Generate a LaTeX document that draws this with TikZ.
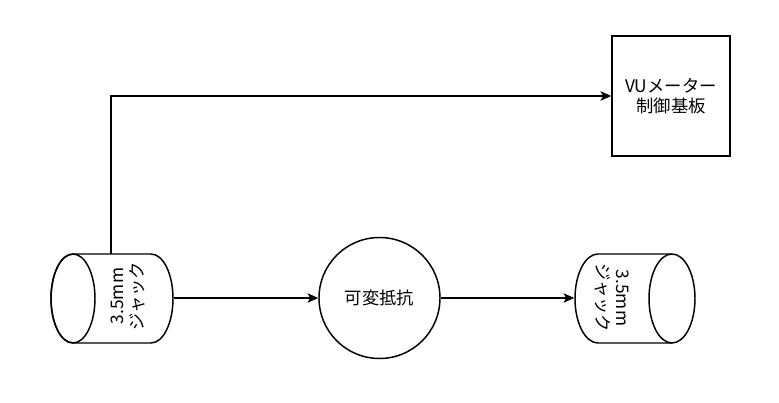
\documentclass[tikz,border=0pt]{standalone}
\usepackage{fontspec}
\setmainfont{Noto Sans CJK JP}
\usetikzlibrary{arrows.meta}
\begin{document}
\begin{tikzpicture}[x=0.75pt,y=-0.75pt,
  line width=1.1pt,
  lbl/.style={font=\fontsize{13pt}{15.5pt}\selectfont, align=center, inner sep=0pt},
  conn/.style={draw, line width=1.1pt, -{Stealth[length=8pt,width=7pt,inset=2pt]}},
  shp/.style={draw, line width=1.1pt, fill=white}]
\useasboundingbox (0,0) rectangle (779,403);
% left jack (cylinder, ellipse on left)
\draw[shp] (73,254) -- (151,254) arc[start angle=90,end angle=-90,x radius=16.5pt,y radius=33.375pt] -- (73,343) arc[start angle=270,end angle=90,x radius=16.5pt,y radius=33.375pt] -- cycle;
\draw (73,298.5) ellipse[x radius=16.5pt,y radius=33.375pt];
\node[inner sep=0, minimum width=91.5pt, minimum height=66.75pt] (jl) at (112,298.5) {};
\node[lbl, rotate=90] (jltxt) at (128,296) {3.5mm\\ジャック};
% right jack (ellipse on right)
\draw[shp] (672,254) -- (598,254) arc[start angle=90,end angle=270,x radius=17.25pt,y radius=33.375pt] -- (672,343);
\draw (672,298.5) ellipse[x radius=17.25pt,y radius=33.375pt];
\node[inner sep=0, minimum width=90pt, minimum height=66.75pt] (jr) at (635,298.5) {};
\node[lbl, rotate=-90] (jrtxt) at (612,298) {3.5mm\\ジャック};
% variable resistor
\node[draw, circle, minimum size=90.75pt, inner sep=0, lbl] (vr) at (379.5,298) {可変抵抗};
% VU meter board
\node[draw, rectangle, minimum width=88.5pt, minimum height=90pt, inner sep=0, lbl] (vu) at (671,96) {VUメーター\\制御基板};
% connectors
\coordinate (c1) at (111,96);
\draw[conn] (jl.east |- vr.west) -- (vr.west);
\draw[conn] (vr.east) -- (jr.west |- vr.east);
\draw[conn] (111,254) -- (c1) -- (vu.west);
\end{tikzpicture}
\end{document}
